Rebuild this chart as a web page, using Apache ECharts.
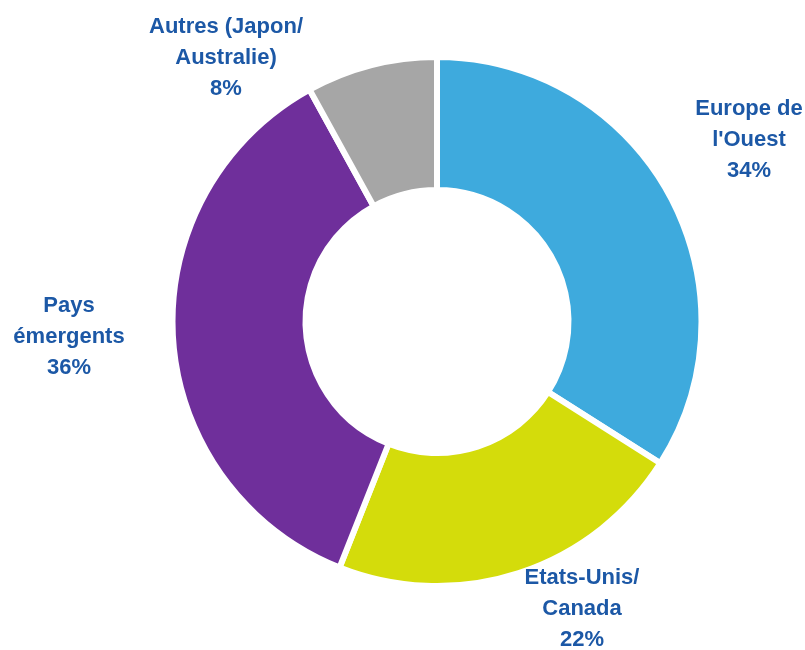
<!DOCTYPE html>
<html>
<head>
<meta charset="utf-8">
<script src="https://cdn.jsdelivr.net/npm/echarts@6/dist/echarts.min.js"></script>
<style>
html,body{margin:0;padding:0;background:#fff;}
#chart{width:805px;height:650px;}
</style>
</head>
<body>
<div id="chart"></div>
<script>
// données
var regions = ["Europe de\nl'Ouest", "Etats-Unis/\nCanada", "Pays\némergents", "Autres (Japon/\nAustralie)"];
var parts = [34, 22, 36, 8];
var couleurs = ['#3eaadd', '#d4dc0b', '#6f2f9b', '#a6a6a6'];
// position des étiquettes (centre du bloc de texte)
var labelPos = [[749, 140], [582, 609], [69, 337], [226, 58]];

var data = regions.map(function(r, i){
    return {name: r, value: parts[i], itemStyle: {color: couleurs[i]}};
});

var charts = echarts.init(document.getElementById('chart'));
charts.setOption({
    animation: false,
    series: [{
        type: 'pie',
        center: [437, 321.5],
        radius: [131.5, 264.5],
        startAngle: 90,
        clockwise: true,
        itemStyle: {borderColor: '#fff', borderWidth: 6},
        label: {
            show: true,
            position: 'inside',
            overflow: 'none',
            formatter: '{b}\n{c}%',
            color: '#1c58a6',
            fontFamily: '"Liberation Sans", Arial, sans-serif',
            fontWeight: 'bold',
            fontSize: 22,
            lineHeight: 31,
            align: 'center'
        },
        labelLine: {show: false},
        labelLayout: function(p){
            var pos = labelPos[p.dataIndex];
            return {x: pos[0], y: pos[1], align: 'center', verticalAlign: 'middle'};
        },
        emphasis: {disabled: true},
        data: data
    }]
});
</script>
</body>
</html>
